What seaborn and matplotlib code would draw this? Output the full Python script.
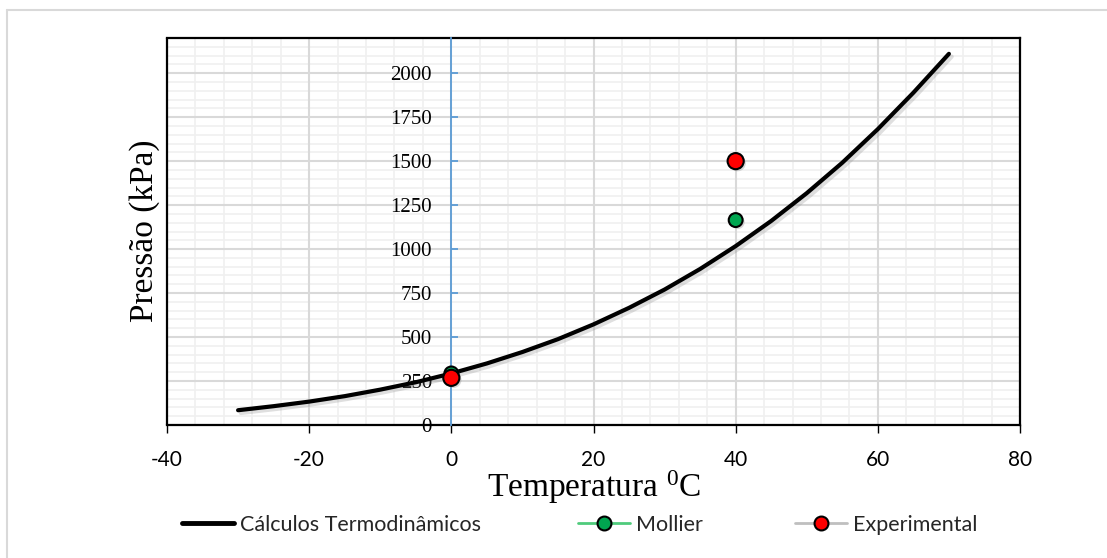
"""
Pressão de saturação x temperatura: cálculo termodinâmico vs Mollier vs experimental.
"""
import matplotlib
matplotlib.use("Agg")
import matplotlib.pyplot as plt
import matplotlib.patheffects as pe
from matplotlib.lines import Line2D
from matplotlib.ticker import MultipleLocator
import seaborn as sns

# ── Data ──────────────────────────────────────────────────────────────────────
TEMP_CALC = [-30, -25, -20, -15, -10, -5, 0, 5, 10, 15, 20, 25, 30, 35,
             40, 45, 50, 55, 60, 65, 70]
P_CALC = [84, 107, 133, 164, 201, 243, 293, 350, 415, 488, 572, 666, 770, 887,
          1017, 1160, 1318, 1491, 1682, 1889, 2110]

TEMP_MOLLIER = [0, 40]
P_MOLLIER = [293, 1165]

TEMP_EXP = [0, 40]
P_EXP = [268, 1500]

X_TICKS = [-40, -20, 0, 20, 40, 60, 80]
Y_TICKS = [0, 250, 500, 750, 1000, 1250, 1500, 1750, 2000]

LEGEND_LABELS = ["Cálculos Termodinâmicos", "Mollier", "Experimental"]

# ── Style ─────────────────────────────────────────────────────────────────────
sns.set_theme(style="white")
plt.rcParams["font.family"] = ["Lato", "DejaVu Sans"]
plt.rcParams["axes.unicode_minus"] = False
plt.rcParams["mathtext.fontset"] = "custom"
plt.rcParams["mathtext.rm"] = "Liberation Serif"

W, H = 1107, 558
GREEN = "#00a650"
RED = "#ff0000"
BLUE_AXIS = "#5b9bd5"
GRID_MAJOR = "#d9d9d9"
GRID_MINOR = "#f0f0f0"

fig = plt.figure(figsize=(W / 100, H / 100), dpi=100)
ax = fig.add_axes([167 / W, 1 - 425 / H, (1020 - 167) / W, (425 - 38) / H])

# ── Marks ─────────────────────────────────────────────────────────────────────
shadow_line = [pe.SimpleLineShadow(offset=(2, -2), alpha=0.25, shadow_color="gray"), pe.Normal()]
shadow_pt = [pe.SimplePatchShadow(offset=(1.5, -1.5), alpha=0.3, shadow_rgbFace="gray"), pe.Normal()]

sns.lineplot(x=TEMP_CALC, y=P_CALC, ax=ax, color="black", lw=3, zorder=5,
             path_effects=shadow_line)
sns.scatterplot(x=TEMP_MOLLIER, y=P_MOLLIER, ax=ax, color=GREEN, s=100,
                edgecolor="black", linewidth=1.5, zorder=6)
sns.scatterplot(x=TEMP_EXP, y=P_EXP, ax=ax, color=RED, s=135,
                edgecolor="black", linewidth=1.5, zorder=7)
for coll in ax.collections:
    coll.set_path_effects(shadow_pt)

# ── Axes ──────────────────────────────────────────────────────────────────────
ax.set_xlim(-40, 80)
ax.set_ylim(0, 2200)
ax.set_xticks(X_TICKS)
ax.set_yticks(Y_TICKS)
ax.xaxis.set_minor_locator(MultipleLocator(4))
ax.yaxis.set_minor_locator(MultipleLocator(50))
ax.grid(False, which="both")
ax.set_axisbelow(True)

# grid by hand: minor lines first, major on top, tick labels (axis, z=0.5) above both
for xv in ax.xaxis.get_minorticklocs():
    ax.axvline(xv, color=GRID_MINOR, lw=1.2, zorder=0.3)
for yv in ax.yaxis.get_minorticklocs():
    ax.axhline(yv, color=GRID_MINOR, lw=1.2, zorder=0.3)
for xv in X_TICKS:
    ax.axvline(xv, color=GRID_MAJOR, lw=1.5, zorder=0.4)
for yv in Y_TICKS:
    ax.axhline(yv, color=GRID_MAJOR, lw=1.5, zorder=0.4)

for side in ("top", "right", "bottom"):
    ax.spines[side].set_color("black")
    ax.spines[side].set_linewidth(1.6)
ax.spines["left"].set_position(("data", 0))
ax.spines["left"].set_color(BLUE_AXIS)
ax.spines["left"].set_linewidth(1.3)
ax.spines["left"].set_zorder(3)
ax.axvline(-40, color="black", lw=1.6, clip_on=False, zorder=4)

ax.tick_params(axis="x", which="major", bottom=True, direction="out", length=6,
               width=1, color="black", pad=12, labelsize=15, labelcolor="black")
ax.tick_params(axis="y", which="major", left=True, direction="in", length=5,
               width=1.3, color=BLUE_AXIS, pad=14, labelsize=15,
               labelfontfamily="Liberation Serif", labelcolor="black")
ax.tick_params(which="minor", length=0)
ax.set_xlabel("")
ax.set_ylabel("")

# ── Labels ────────────────────────────────────────────────────────────────────
fig.text(594 / W, 1 - 497 / H, r"Temperatura $\mathregular{^0}$C", ha="center", va="baseline",
         fontsize=24, family="Liberation Serif", color="black")
fig.text(145 / W, 1 - 231 / H, "Pressão (kPa)", rotation=90, ha="center", va="center",
         fontsize=24, family="Liberation Serif", color="black")

# ── Legend ────────────────────────────────────────────────────────────────────
handles = [
    Line2D([], [], color="black", lw=3.5),
    Line2D([], [], color="#4fcb7c", lw=2, marker="o", markersize=10,
           markerfacecolor=GREEN, markeredgecolor="black", markeredgewidth=1.5),
    Line2D([], [], color="#bfbfbf", lw=2, marker="o", markersize=10,
           markerfacecolor=RED, markeredgecolor="black", markeredgewidth=1.5),
]
for h, lab, x0 in zip(handles, LEGEND_LABELS, [182, 578, 795]):
    fig.legend([h], [lab], loc="center left", bbox_to_anchor=(x0 / W, 1 - 525 / H),
               frameon=False, borderpad=0, borderaxespad=0, handlelength=2.4,
               handletextpad=0.3, prop={"family": "Lato", "size": 15.5})

# chart-area border
fig.add_artist(Line2D([7 / W, 7 / W], [0, 1 - 10 / H], color="#d9d9d9", lw=1.5,
                      transform=fig.transFigure))
fig.add_artist(Line2D([7 / W, 1], [1 - 10 / H, 1 - 10 / H], color="#d9d9d9", lw=1.5,
                      transform=fig.transFigure))

fig.savefig("out.png", dpi=100, facecolor="white")
